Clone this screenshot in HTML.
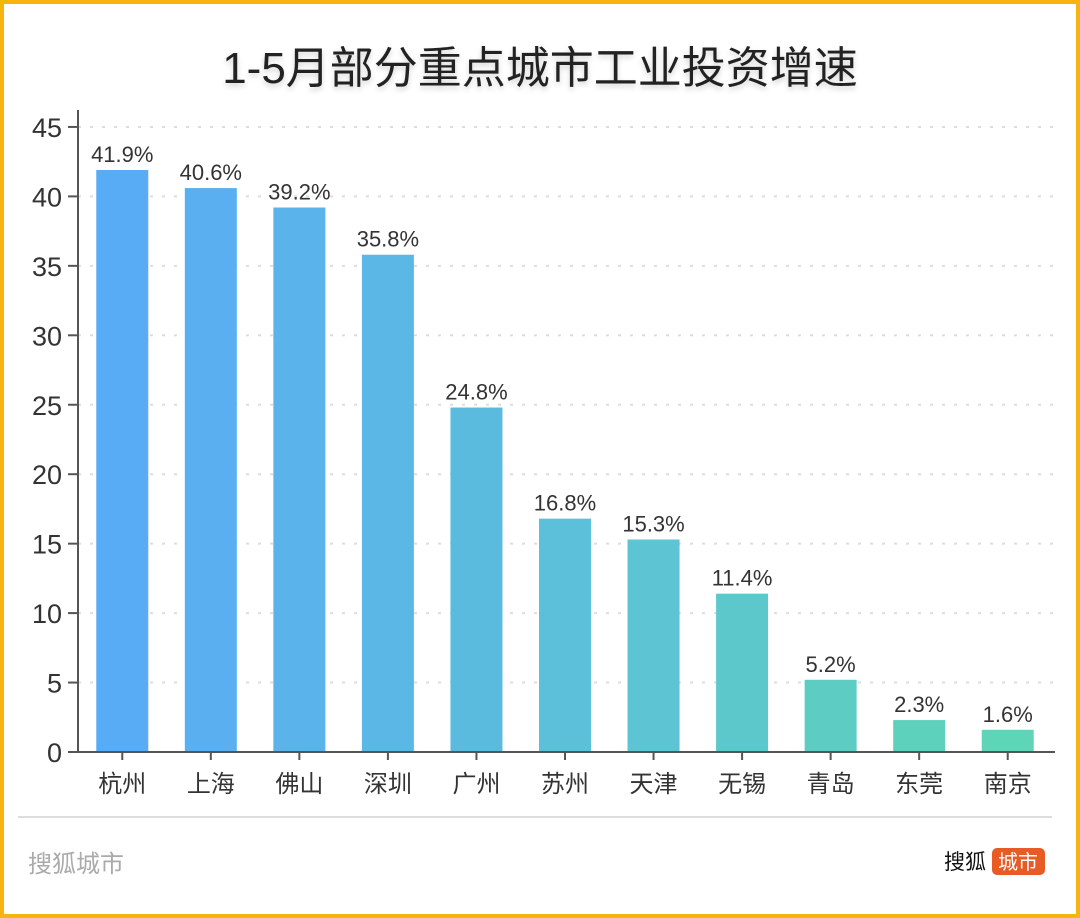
<!DOCTYPE html>
<html><head><meta charset="utf-8"><style>
html,body{margin:0;padding:0;background:#fff}
#wrap{position:relative;width:1080px;height:918px;box-sizing:border-box;border:4px solid #f5b50c;background:#fff;font-family:"Liberation Sans","Noto Sans CJK SC",sans-serif;overflow:hidden}
#title{position:absolute;left:0;top:28px;width:1072px;text-align:center;font-size:44px;color:#222;text-shadow:0 3px 6px rgba(0,0,0,0.18)}
svg{position:absolute;left:-4px;top:-4px}
</style></head><body>
<div id="wrap">
<div id="title">1-5月部分重点城市工业投资增速</div>
<svg id="chart" width="1080" height="918"></svg>
</div>
<script>
const categories=["杭州","上海","佛山","深圳","广州","苏州","天津","无锡","青岛","东莞","南京"];
const values=[41.9,40.6,39.2,35.8,24.8,16.8,15.3,11.4,5.2,2.3,1.6];
const yTicks=[0,5,10,15,20,25,30,35,40,45];
const colors=["#58abf5","#59aff0","#5ab3ea","#5bb7e5","#5bbbdf","#5cc0da","#5cc4d3","#5dc8cc","#5dcdc4","#5ed1bd","#5ed5b6"];
const NS="http://www.w3.org/2000/svg";
const svg=document.getElementById('chart');
const x0=78,x1=1052,y0=752,ppu=13.89;
const step=(x1-x0)/categories.length,bw=52;
const y=v=>y0-v*ppu;
const xc=i=>x0+step*(i+0.5);
function mk(t,a,p){const e=document.createElementNS(NS,t);for(const k in a)e.setAttribute(k,a[k]);(p||svg).appendChild(e);return e;}
yTicks.forEach(t=>{
 if(t>0){const g=mk('line',{x1:x0,x2:1055,y1:y(t),y2:y(t),stroke:'#ddd','stroke-width':2,'stroke-dasharray':'3 9'});
 
 }
 const tk=mk('line',{x1:68,x2:x0,y1:y(t),y2:y(t),stroke:'#555','stroke-width':2});
 
 
 const l=mk('text',{x:62,y:y(t)+10,'text-anchor':'end','font-size':27,fill:'#333'});
 l.textContent=t;
 
 
});
values.forEach((v,i)=>{
 const r=mk('rect',{x:xc(i)-bw/2,y:y(v),width:bw,height:v*ppu,fill:colors[i]});
 
 
 const t=mk('text',{x:xc(i),y:y(v)-8,'text-anchor':'middle','font-size':22,fill:'#333'});
 t.textContent=v.toFixed(1)+'%';
 
 
 const c=mk('text',{x:xc(i),y:792,'text-anchor':'middle','font-size':24,fill:'#333'});
 c.textContent=categories[i];
 
 
 const xt=mk('line',{x1:xc(i),x2:xc(i),y1:y0,y2:y0+8,stroke:'#555','stroke-width':2});
 
 
});
const ax=mk('line',{x1:x0,x2:x0,y1:110,y2:y0,stroke:'#555','stroke-width':2});


const bx=mk('line',{x1:x0,x2:1055,y1:y0,y2:y0,stroke:'#555','stroke-width':2});


const sep=mk('line',{x1:18,x2:1052,y1:817,y2:817,stroke:'#ddd','stroke-width':2});


const f=mk('text',{x:28,y:872,'font-size':24,fill:'#aaa'});
f.textContent='搜狐城市';


const lg=mk('text',{x:944,y:869,'font-size':21,fill:'#111'});
lg.textContent='搜狐';


const lb=mk('rect',{x:992,y:848,width:53,height:27,rx:5,fill:'#e95b24'});


const lt=mk('text',{x:1018,y:869,'text-anchor':'middle','font-size':20,fill:'#fff'});
lt.textContent='城市';


</script>
</body></html>
